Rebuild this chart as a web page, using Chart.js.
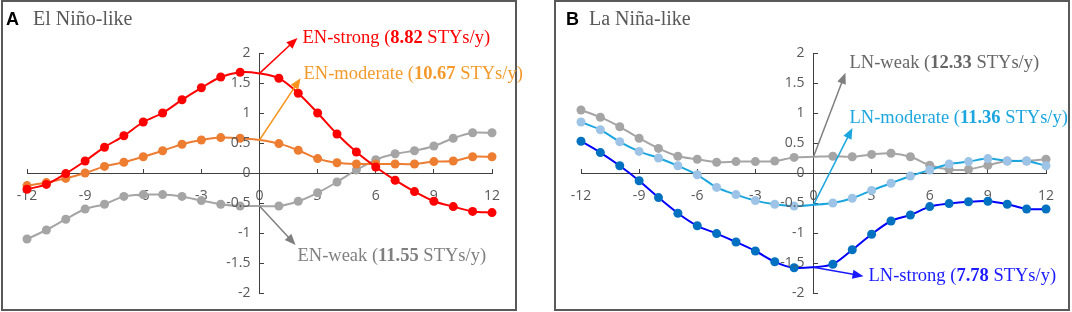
<!DOCTYPE html>
<html>
<head>
<meta charset="utf-8">
<script src="https://cdn.jsdelivr.net/npm/chart.js@4.4.1/dist/chart.umd.min.js"></script>
<style>
  body { margin: 0; background: #fff; width: 1072px; height: 312px; position: relative; overflow: hidden; }
  .panel { position: absolute; top: 0; width: 516px; height: 311px; box-sizing: border-box; border: 2px solid #595959; }
  canvas { position: absolute; top: 2px; }
</style>
</head>
<body>
<div class="panel" style="left:1px"></div>
<div class="panel" style="left:554px"></div>
<canvas id="chartA" width="545" height="307" style="left:3px"></canvas>
<canvas id="chartB" width="516" height="307" style="left:556px"></canvas>
<script>
// months relative to peak, -12 .. 12
const months = [-12, -11, -10, -9, -8, -7, -6, -5, -4, -3, -2, -1, 0, 1, 2, 3, 4, 5, 6, 7, 8, 9, 10, 11, 12];

// El Nino-like
const enStrong   = [-0.27, -0.19, -0.01, 0.20, 0.43, 0.62, 0.85, 1.00, 1.22, 1.42, 1.60, 1.68, 1.66, 1.58, 1.33, 1.00, 0.65, 0.35, 0.10, -0.12, -0.31, -0.47, -0.56, -0.64, -0.66];
const enModerate = [-0.21, -0.16, -0.09, 0.00, 0.11, 0.18, 0.27, 0.37, 0.48, 0.55, 0.59, 0.58, 0.55, 0.49, 0.38, 0.24, 0.17, 0.15, 0.15, 0.15, 0.15, 0.19, 0.20, 0.27, 0.27];
const enWeak     = [-1.10, -0.95, -0.77, -0.60, -0.52, -0.39, -0.36, -0.36, -0.39, -0.46, -0.52, -0.55, -0.55, -0.55, -0.47, -0.33, -0.15, 0.05, 0.22, 0.32, 0.37, 0.45, 0.58, 0.67, 0.67];

// La Nina-like
const lnWeak     = [1.05, 0.93, 0.77, 0.58, 0.41, 0.28, 0.23, 0.18, 0.19, 0.19, 0.20, 0.26, 0.27, 0.28, 0.27, 0.31, 0.33, 0.27, 0.13, 0.06, 0.06, 0.13, 0.20, 0.20, 0.23];
const lnModerate = [0.85, 0.72, 0.52, 0.36, 0.25, 0.12, -0.03, -0.24, -0.36, -0.46, -0.52, -0.55, -0.53, -0.50, -0.42, -0.29, -0.17, -0.05, 0.05, 0.15, 0.19, 0.24, 0.20, 0.20, 0.12];
const lnStrong   = [0.53, 0.34, 0.12, -0.13, -0.41, -0.67, -0.88, -1.01, -1.15, -1.30, -1.48, -1.58, -1.57, -1.52, -1.28, -1.02, -0.80, -0.70, -0.56, -0.51, -0.48, -0.47, -0.52, -0.60, -0.60];

// STYs per year for each group
const enNames = ['EN-strong', 'EN-moderate', 'EN-weak'];
const enRates = ['8.82', '10.67', '11.55'];
const lnNames = ['LN-weak', 'LN-moderate', 'LN-strong'];
const lnRates = ['12.33', '11.36', '7.78'];

const axisColor = '#404040';
const labelColor = '#595959';

function series(values, line, marker) {
  return {
    data: months.map((m, i) => ({ x: m, y: values[i] })),
    borderColor: line,
    backgroundColor: marker,
    pointBackgroundColor: marker,
    pointBorderColor: marker,
    pointBorderWidth: 0,
    pointRadius: months.map(m => m === 0 ? 0 : 4.5),
    borderWidth: 2,
    tension: 0.3,
    clip: false
  };
}

function drawArrow(ctx, x1, y1, x2, y2, color) {
  const ang = Math.atan2(y2 - y1, x2 - x1);
  const head = 11, half = 4.5;
  ctx.strokeStyle = color;
  ctx.lineWidth = 1.5;
  ctx.beginPath();
  ctx.moveTo(x1, y1);
  ctx.lineTo(x2 - Math.cos(ang) * head * 0.7, y2 - Math.sin(ang) * head * 0.7);
  ctx.stroke();
  ctx.fillStyle = color;
  ctx.beginPath();
  ctx.moveTo(x2, y2);
  ctx.lineTo(x2 - head * Math.cos(ang) + half * Math.sin(ang), y2 - head * Math.sin(ang) - half * Math.cos(ang));
  ctx.lineTo(x2 - head * Math.cos(ang) - half * Math.sin(ang), y2 - head * Math.sin(ang) + half * Math.cos(ang));
  ctx.closePath();
  ctx.fill();
}

const decor = {
  id: 'decor',
  afterDraw(chart, args, opts) {
    const ctx = chart.ctx;
    const xs = chart.scales.x, ys = chart.scales.y;
    const x0 = xs.getPixelForValue(0);
    ctx.save();
    // panel title
    ctx.textBaseline = 'alphabetic';
    ctx.textAlign = 'left';
    ctx.fillStyle = '#000';
    ctx.font = "bold 18px 'Liberation Sans'";
    ctx.fillText(opts.letter, opts.letterX, 23);
    ctx.fillStyle = labelColor;
    ctx.font = "20px 'Liberation Serif'";
    ctx.fillText(opts.title, opts.titleX, 23);
    // y tick labels, left of the axis that crosses at x = 0
    ctx.font = "14px 'Open Sans'";
    ctx.textAlign = 'right';
    ctx.textBaseline = 'middle';
    ys.ticks.forEach(t => {
      ctx.fillText(String(Number(t.value.toFixed(1))), x0 - 9, ys.getPixelForValue(t.value));
    });
    // arrows and labels
    ctx.textAlign = 'left';
    opts.notes.forEach(n => {
      const y0 = ys.getPixelForValue(n.values[months.indexOf(0)]);
      drawArrow(ctx, x0, y0, xs.getPixelForValue(n.tip[0]), ys.getPixelForValue(n.tip[1]), n.arrow);
      let tx = xs.getPixelForValue(n.at[0]);
      const ty = ys.getPixelForValue(n.at[1]);
      ctx.fillStyle = n.text;
      const parts = [[n.name + ' (', false], [n.rate, true], [' STYs/y)', false]];
      parts.forEach(([s, bold]) => {
        ctx.font = (bold ? 'bold ' : '') + "18.5px 'Liberation Serif'";
        ctx.fillText(s, tx, ty);
        tx += ctx.measureText(s).width;
      });
    });
    ctx.restore();
  }
};

function scales() {
  return {
    x: {
      type: 'linear', min: -12, max: 12, position: { y: 0 },
      afterFit: s => { s.height = 0; },
      border: { color: axisColor, width: 1 },
      grid: { drawOnChartArea: false, tickLength: -5, color: axisColor },
      ticks: { stepSize: 3, color: labelColor, font: { size: 14, lineHeight: 2.34 }, padding: 12, maxRotation: 0, autoSkip: false }
    },
    y: {
      min: -2, max: 2, position: { x: 0 },
      afterFit: s => { s.width = 0; },
      border: { color: axisColor, width: 1 },
      grid: { drawOnChartArea: false, tickLength: -5, color: axisColor },
      ticks: { stepSize: 0.5, display: false }
    }
  };
}

Chart.defaults.font.family = "'Open Sans'";
Chart.defaults.animation = false;

new Chart(document.getElementById('chartA'), {
  type: 'line',
  data: {
    datasets: [
      series(enStrong, '#ff0000', '#ff0000'),
      series(enModerate, '#ed7d31', '#ed7d31'),
      series(enWeak, '#a5a5a5', '#a5a5a5')
    ]
  },
  plugins: [decor],
  options: {
    responsive: false,
    layout: { padding: { left: 24, right: 56, top: 51, bottom: 16 } },
    scales: scales(),
    plugins: {
      legend: { display: false },
      tooltip: { enabled: false },
      decor: {
        letter: 'A', letterX: 3, title: 'El Niño-like', titleX: 30,
        notes: [
          { values: enStrong, name: enNames[0], rate: enRates[0], tip: [1.96, 2.25], at: [2.22, 2.25], arrow: '#ff0000', text: '#ff0000' },
          { values: enModerate, name: enNames[1], rate: enRates[1], tip: [2.12, 1.58], at: [2.27, 1.65], arrow: '#f7941d', text: '#f39a2b' },
          { values: enWeak, name: enNames[2], rate: enRates[2], tip: [1.86, -1.2], at: [1.96, -1.38], arrow: '#7f7f7f', text: '#7f7f7f' }
        ]
      }
    }
  }
});

new Chart(document.getElementById('chartB'), {
  type: 'line',
  data: {
    datasets: [
      series(lnStrong, '#0000ff', '#0070c0'),
      series(lnModerate, '#1ca6df', '#9dc3e6'),
      series(lnWeak, '#a5a5a5', '#a5a5a5')
    ]
  },
  plugins: [decor],
  options: {
    responsive: false,
    layout: { padding: { left: 25, right: 26, top: 51, bottom: 16 } },
    scales: scales(),
    plugins: {
      legend: { display: false },
      tooltip: { enabled: false },
      decor: {
        letter: 'B', letterX: 10, title: 'La Niña-like', titleX: 33,
        notes: [
          { values: lnWeak, name: lnNames[0], rate: lnRates[0], tip: [1.65, 1.67], at: [1.86, 1.83], arrow: '#7f7f7f', text: '#666666' },
          { values: lnModerate, name: lnNames[1], rate: lnRates[1], tip: [2.01, 0.75], at: [1.86, 0.92], arrow: '#1ca6df', text: '#1ca6df' },
          { values: lnStrong, name: lnNames[2], rate: lnRates[2], tip: [2.58, -1.72], at: [2.84, -1.72], arrow: '#1a1aff', text: '#1a1aff' }
        ]
      }
    }
  }
});
</script>
</body>
</html>
